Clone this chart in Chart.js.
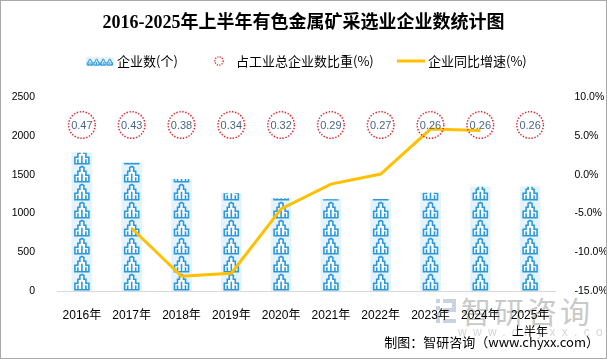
<!DOCTYPE html>
<html>
<head>
<meta charset="utf-8">
<script src="https://cdn.jsdelivr.net/npm/chart.js@4/dist/chart.umd.min.js"></script>
<style>
html,body{margin:0;padding:0;background:#fff;}
#wrap{position:relative;width:607px;height:359px;overflow:hidden;background:#fff;font-family:"Noto Sans CJK SC",sans-serif;}
#chart{position:absolute;left:0;top:0;z-index:2;}
.abs{position:absolute;white-space:nowrap;}
#title{left:0;width:607px;top:10px;text-align:center;font-weight:bold;font-size:18px;line-height:24px;font-family:"Liberation Serif","Noto Sans CJK SC",serif;color:#000;z-index:3;}
.lg{top:52px;font-size:13px;line-height:18px;color:#000;z-index:3;}
#footer{right:8px;top:333px;font-size:13px;line-height:18px;color:#000;z-index:3;}
#wm1{left:461px;top:292px;font-size:30px;line-height:36px;color:#c9c9c9;letter-spacing:3px;z-index:1;}
#wm2{left:458px;top:324px;font-size:12px;line-height:16px;color:#d6d6d6;letter-spacing:6.3px;font-family:"Liberation Sans",sans-serif;z-index:1;}
#frame{left:0;top:0;width:605px;height:357px;border:1px solid #a9a9a9;z-index:4;pointer-events:none;}
</style>
</head>
<body>
<div id="wrap">
  <canvas id="wmlogo" class="abs" width="24" height="28" style="left:434px;top:297px;z-index:1;"></canvas>
  <div id="wm1" class="abs">智研咨询</div>
  <div id="wm2" class="abs">www.chyxx.com</div>
  <canvas id="chart" width="607" height="359"></canvas>
  <div id="title" class="abs">2016-2025年上半年有色金属矿采选业企业数统计图</div>
  <canvas id="lg1" class="abs" width="28" height="10" style="left:86px;top:56px;z-index:3;"></canvas>
  <div class="abs lg" style="left:117px;">企业数(个)</div>
  <canvas id="lg2" class="abs" width="12" height="12" style="left:213px;top:55px;z-index:3;"></canvas>
  <div class="abs lg" style="left:236px;">占工业总企业数比重(%)</div>
  <canvas id="lg3" class="abs" width="28" height="6" style="left:397px;top:58px;z-index:3;"></canvas>
  <div class="abs lg" style="left:428px;">企业同比增速(%)</div>
  <div id="footer" class="abs">制图：智研咨询（www.chyxx.com）</div>
  <div id="frame" class="abs"></div>
</div>
<script>
// ---- data ----
const categories = ['2016年','2017年','2018年','2019年','2020年','2021年','2022年','2023年','2024年',['2025年','上半年']];
const enterpriseCount = [1785, 1656, 1445, 1261, 1196, 1183, 1187, 1269, 1346, 1347];
const shareOfIndustry = [0.47, 0.43, 0.38, 0.34, 0.32, 0.29, 0.27, 0.26, 0.26, 0.26];
const yoyGrowth = [null, -6.9, -13.1, -12.7, -4.4, -1.2, 0.1, 5.9, 5.7, null];
const leftTicks = [0, 500, 1000, 1500, 2000, 2500];
const rightTicks = [-15, -10, -5, 0, 5, 10];

const ICON_BLUE = '#2b98de';
const BAR_BG = '#e4f3fc';
const LINE_COLOR = '#FFC000';
const CIRCLE_RED = '#e3242b';

function iconPath(ctx, x, y, s) {
  ctx.beginPath();
  const p = [[0.5,15.5],[0.5,9],[3.5,9],[3.5,5],[5.5,5],[5.5,1.2],[7.5,0.3],[9.5,1.2],[9.5,5],[11.5,5],[11.5,9],[14.5,9],[14.5,15.5]];
  ctx.moveTo(x + p[0][0]*s, y + p[0][1]*s);
  for (let i = 1; i < p.length; i++) ctx.lineTo(x + p[i][0]*s, y + p[i][1]*s);
  ctx.closePath();
}
function drawIcon(ctx, x, y, s, lw) {
  iconPath(ctx, x, y, s);
  ctx.fillStyle = '#ffffff';
  ctx.fill();
  ctx.strokeStyle = ICON_BLUE;
  ctx.lineWidth = lw;
  ctx.stroke();
  ctx.beginPath();
  ctx.moveTo(x + 3.5*s, y + 11*s); ctx.lineTo(x + 3.5*s, y + 15.5*s);
  ctx.moveTo(x + 7.5*s, y + 7.5*s); ctx.lineTo(x + 7.5*s, y + 15.5*s);
  ctx.moveTo(x + 11.5*s, y + 11*s); ctx.lineTo(x + 11.5*s, y + 15.5*s);
  ctx.stroke();
}

const pictorialBars = {
  id: 'pictorialBars',
  afterDatasetDraw(chart, args) {
    if (args.index !== 0) return;
    const ctx = chart.ctx;
    const cell = 18;
    args.meta.data.forEach(bar => {
      const { x, y, base, width } = bar.getProps(['x','y','base','width'], true);
      ctx.save();
      ctx.beginPath();
      ctx.rect(x - width / 2, y, width, base - y);
      ctx.clip();
      for (let top = base - cell; top + cell > y; top -= cell) {
        drawIcon(ctx, x - 7.5, top + 1.2, 1, 1.6);
      }
      ctx.restore();
    });
  }
};

const ratioCircles = {
  id: 'ratioCircles',
  afterDatasetsDraw(chart) {
    const ctx = chart.ctx;
    const xs = chart.scales.x;
    const cy = chart.chartArea.top + 27.7;
    ctx.save();
    shareOfIndustry.forEach((v, i) => {
      const cx = xs.getPixelForValue(i);
      ctx.beginPath();
      ctx.arc(cx, cy, 13.3, 0, Math.PI * 2);
      ctx.setLineDash([1.4, 1.6]);
      ctx.lineWidth = 1.5;
      ctx.strokeStyle = CIRCLE_RED;
      ctx.stroke();
      ctx.setLineDash([]);
      ctx.fillStyle = '#4a6684';
      ctx.font = '11px "Liberation Sans", sans-serif';
      ctx.textAlign = 'center';
      ctx.textBaseline = 'middle';
      ctx.fillText(v.toFixed(2), cx, cy + 0.5);
    });
    ctx.restore();
  }
};

new Chart(document.getElementById('chart'), {
  data: {
    labels: categories,
    datasets: [
      {
        type: 'bar',
        label: '企业数(个)',
        data: enterpriseCount,
        yAxisID: 'y',
        backgroundColor: BAR_BG,
        borderWidth: 0,
        barThickness: 20,
        order: 2
      },
      {
        type: 'line',
        label: '企业同比增速(%)',
        data: yoyGrowth,
        yAxisID: 'y1',
        borderColor: LINE_COLOR,
        backgroundColor: LINE_COLOR,
        borderWidth: 3,
        pointRadius: 0,
        tension: 0,
        spanGaps: false,
        order: 1
      }
    ]
  },
  options: {
    responsive: false,
    animation: false,
    devicePixelRatio: 1,
    layout: { padding: { top: 97.3, left: 0, right: 0, bottom: 0 } },
    plugins: { legend: { display: false }, title: { display: false }, tooltip: { enabled: false } },
    scales: {
      x: {
        grid: { display: false },
        border: { display: true, color: '#d9d9d9', width: 1 },
        ticks: {
          color: '#000',
          font: { size: 12, family: '"Liberation Sans", "Noto Sans CJK SC", sans-serif', lineHeight: 1.4 },
          padding: 8.3,
          maxRotation: 0,
          autoSkip: false
        },
        afterFit(s) { s.height = 68; }
      },
      y: {
        position: 'left',
        min: 0, max: 2500,
        afterBuildTicks(s) { s.ticks = leftTicks.map(v => ({ value: v })); },
        grid: { display: false },
        border: { display: false },
        ticks: {
          color: '#000', padding: 14,
          font: { size: 10.5, family: '"Liberation Sans", sans-serif' },
          callback: v => String(v)
        },
        afterFit(s) { s.width = 57; }
      },
      y1: {
        position: 'right',
        min: -15, max: 10,
        afterBuildTicks(s) { s.ticks = rightTicks.map(v => ({ value: v })); },
        grid: { display: false, drawOnChartArea: false },
        border: { display: false },
        ticks: {
          color: '#000', padding: 11.5,
          font: { size: 10.5, family: '"Liberation Sans", sans-serif' },
          callback: v => v.toFixed(1) + '%'
        },
        afterFit(s) { s.width = 52; }
      }
    }
  },
  plugins: [pictorialBars, ratioCircles]
});

// legend icons and watermark logo
(function () {
  const c1 = document.getElementById('lg1').getContext('2d');
  c1.fillStyle = BAR_BG;
  c1.fillRect(0, 1, 28, 8);
  for (let i = 0; i < 4; i++) drawIcon(c1, 1 + i * 6.6, 3, 0.4, 1);
  const c2 = document.getElementById('lg2').getContext('2d');
  c2.beginPath();
  c2.arc(6, 6, 4.2, 0, Math.PI * 2);
  c2.setLineDash([1.2, 1.3]);
  c2.lineWidth = 1.3;
  c2.strokeStyle = CIRCLE_RED;
  c2.stroke();
  const c3 = document.getElementById('lg3').getContext('2d');
  c3.fillStyle = LINE_COLOR;
  c3.fillRect(0, 1.5, 28, 3);
  const c4 = document.getElementById('wmlogo').getContext('2d');
  c4.fillStyle = '#c7d3e0';
  c4.fillRect(2, 2, 4, 4);
  c4.fillRect(2, 9, 4, 4);
  c4.fillRect(2, 16, 4, 10);
  c4.fillRect(9, 2, 13, 4);
  c4.fillRect(18, 2, 4, 12);
  c4.fillRect(9, 11, 13, 4);
  c4.fillRect(9, 22, 13, 4);
})();
</script>
</body>
</html>
